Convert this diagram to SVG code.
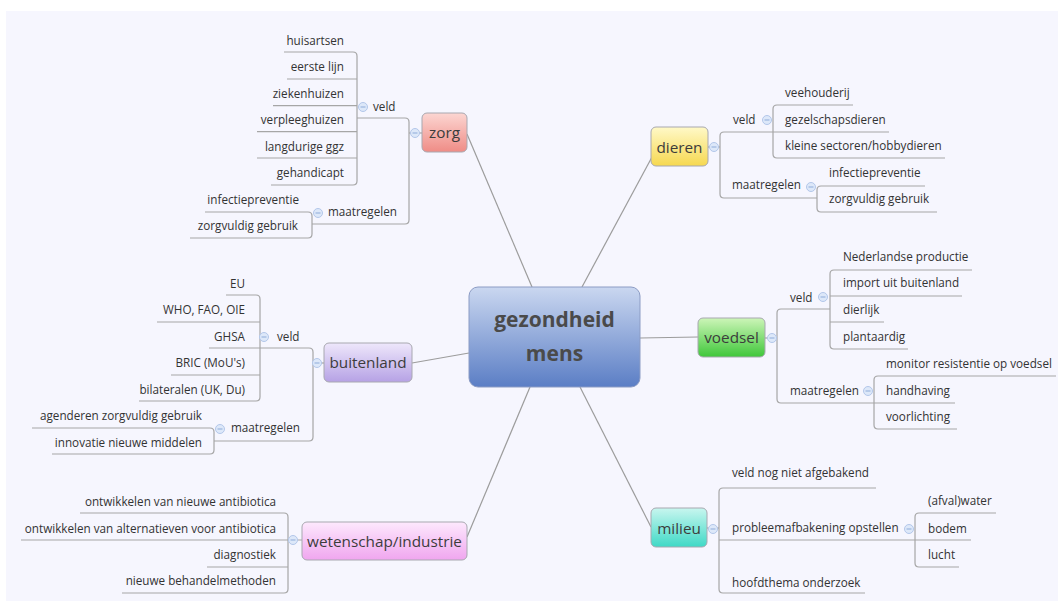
<svg xmlns="http://www.w3.org/2000/svg" width="1058" height="601" viewBox="0 0 1058 601">
<style>
.bg{fill:#f6f6fe}
.ln{stroke:#a6a6a6;stroke-width:1.2;fill:none}
.cn{stroke:#9c9c9c;stroke-width:1.2;fill:none}
.lf{font-family:"Open Sans","Noto Sans",sans-serif;font-size:11.7px;fill:#333}
.r{text-anchor:end}
.mt{font-family:"Open Sans","Noto Sans",sans-serif;font-size:15.3px;fill:#3c3c3c;text-anchor:middle}
.ct{font-family:"Open Sans","Noto Sans",sans-serif;font-size:21px;font-weight:bold;fill:#4a4a4a;text-anchor:middle}
.box{stroke:#a8a8b0;stroke-width:1}
</style>
<defs>
<linearGradient id="gC" x1="0" y1="0" x2="0" y2="1"><stop offset="0" stop-color="#cad7f0"/><stop offset="1" stop-color="#5b7ec5"/></linearGradient>
<linearGradient id="gZ" x1="0" y1="0" x2="0" y2="1"><stop offset="0" stop-color="#fcd6d2"/><stop offset="1" stop-color="#ef8c86"/></linearGradient>
<linearGradient id="gD" x1="0" y1="0" x2="0" y2="1"><stop offset="0" stop-color="#fff9c8"/><stop offset="1" stop-color="#f6d850"/></linearGradient>
<linearGradient id="gV" x1="0" y1="0" x2="0" y2="1"><stop offset="0" stop-color="#cdf5b8"/><stop offset="1" stop-color="#3fc73a"/></linearGradient>
<linearGradient id="gM" x1="0" y1="0" x2="0" y2="1"><stop offset="0" stop-color="#c8f6ef"/><stop offset="1" stop-color="#3fd9c6"/></linearGradient>
<linearGradient id="gB" x1="0" y1="0" x2="0" y2="1"><stop offset="0" stop-color="#eee7fb"/><stop offset="1" stop-color="#b6a2e5"/></linearGradient>
<linearGradient id="gW" x1="0" y1="0" x2="0" y2="1"><stop offset="0" stop-color="#fde9fd"/><stop offset="1" stop-color="#f0a6ef"/></linearGradient>
<g id="cc"><circle r="4.5" fill="#dde8f9" stroke="#b3c7ea" stroke-width="1"/><line x1="-2.5" y1="0" x2="2.5" y2="0" stroke="#8eabd9" stroke-width="1"/></g>
</defs>
<rect class="bg" x="6" y="11" width="1052" height="590"/>

<g id="connectors">
<line class="cn" x1="467" y1="134" x2="532" y2="287"/>
<line class="cn" x1="652" y1="157" x2="582" y2="287"/>
<line class="cn" x1="640" y1="338" x2="698" y2="337"/>
<line class="cn" x1="580" y1="387" x2="651" y2="527"/>
<line class="cn" x1="467" y1="537" x2="530" y2="387"/>
<line class="cn" x1="412" y1="363" x2="469" y2="353"/>

<!-- zorg -->
<line class="ln" x1="409" y1="133" x2="422" y2="133"/>
<path class="ln" d="M357 118H405Q409 118 409 122V220Q409 224 405 224H312"/>
<path class="ln" d="M284 52H353Q357 52 357 56V181Q357 185 353 185H271"/>
<path class="ln" d="M287 79H357M273 105.7H357M257 131.7H357M257 158H357"/>
<path class="ln" d="M205 212H308Q312 212 312 216V234Q312 238 308 238H190"/>

<!-- dieren -->
<line class="ln" x1="708" y1="147" x2="720" y2="147"/>
<path class="ln" d="M773 132H724Q720 132 720 136V194Q720 198 724 198H817"/>
<path class="ln" d="M853 105H777Q773 105 773 109V154Q773 158 777 158H945"/>
<path class="ln" d="M773 132H889"/>
<path class="ln" d="M925 186H821Q817 186 817 190V208Q817 212 821 212H937"/>

<!-- voedsel -->
<line class="ln" x1="765" y1="338" x2="777" y2="338"/>
<path class="ln" d="M830 309H781Q777 309 777 313V399Q777 403 781 403H874"/>
<path class="ln" d="M972 270H834Q830 270 830 274V345Q830 349 834 349H908"/>
<path class="ln" d="M830 296H962M830 322H884"/>
<path class="ln" d="M1056 376H878Q874 376 874 380V425Q874 429 878 429H957"/>
<path class="ln" d="M874 403H955"/>

<!-- milieu -->
<line class="ln" x1="707" y1="528" x2="719" y2="528"/>
<path class="ln" d="M876 488H723Q719 488 719 492V589Q719 593 723 593H865"/>
<path class="ln" d="M719 540H915"/>
<path class="ln" d="M996 513H919Q915 513 915 517V563Q915 567 919 567H959"/>
<path class="ln" d="M915 540H971"/>

<!-- buitenland -->
<line class="ln" x1="313" y1="363" x2="324" y2="363"/>
<path class="ln" d="M260 348H309Q313 348 313 352V437Q313 441 309 441H214"/>
<path class="ln" d="M226 295H256Q260 295 260 299V397Q260 401 256 401H139"/>
<path class="ln" d="M157 322H260M209 348H260M171 375H260"/>
<path class="ln" d="M32 428H210Q214 428 214 432V450Q214 454 210 454H52"/>

<!-- wetenschap/industrie -->
<path class="ln" d="M80 513H284Q288 513 288 517V589Q288 593 284 593H122"/>
<path class="ln" d="M21 540H302M207 567H288"/>
</g>

<g id="central">
<rect x="469" y="287" width="171" height="100" rx="9" fill="url(#gC)" stroke="#8c9cc4" stroke-width="1"/>
<text class="ct" x="554.5" y="327">gezondheid</text>
<text class="ct" x="554.5" y="361">mens</text>
</g>

<g id="zorg">
<rect class="box" x="422" y="113" width="45" height="39" rx="5" fill="url(#gZ)"/>
<text class="mt" x="444.5" y="138">zorg</text>
<use href="#cc" x="415" y="133"/>
</g>
<g id="zorg-veld">
<text class="lf" x="373" y="111">veld</text>
<use href="#cc" x="363" y="107"/>
<text class="lf r" x="344" y="45">huisartsen</text>
<text class="lf r" x="344" y="71">eerste lijn</text>
<text class="lf r" x="344" y="97.5">ziekenhuizen</text>
<text class="lf r" x="344" y="124">verpleeghuizen</text>
<text class="lf r" x="344" y="150.5">langdurige ggz</text>
<text class="lf r" x="344" y="177">gehandicapt</text>
</g>
<g id="zorg-maatregelen">
<text class="lf" x="328" y="215.5">maatregelen</text>
<use href="#cc" x="318" y="213"/>
<text class="lf r" x="299" y="203.5">infectiepreventie</text>
<text class="lf r" x="298" y="230">zorgvuldig gebruik</text>
</g>

<g id="dieren">
<rect class="box" x="651" y="127" width="57" height="39" rx="5" fill="url(#gD)"/>
<text class="mt" x="679.5" y="152.5">dieren</text>
<use href="#cc" x="714" y="147"/>
</g>
<g id="dieren-veld">
<text class="lf" x="733" y="124">veld</text>
<use href="#cc" x="767" y="120"/>
<text class="lf" x="785" y="97">veehouderij</text>
<text class="lf" x="785" y="123.5">gezelschapsdieren</text>
<text class="lf" x="785" y="150">kleine sectoren/hobbydieren</text>
</g>
<g id="dieren-maatregelen">
<text class="lf" x="732" y="189">maatregelen</text>
<use href="#cc" x="811" y="187"/>
<text class="lf" x="829" y="176.5">infectiepreventie</text>
<text class="lf" x="829" y="202.5">zorgvuldig gebruik</text>
</g>

<g id="voedsel">
<rect class="box" x="698" y="318" width="67" height="39" rx="5" fill="url(#gV)"/>
<text class="mt" x="731.5" y="343">voedsel</text>
<use href="#cc" x="772" y="338"/>
</g>
<g id="voedsel-veld">
<text class="lf" x="790" y="302">veld</text>
<use href="#cc" x="823" y="297"/>
<text class="lf" x="843" y="260.5">Nederlandse productie</text>
<text class="lf" x="843" y="287">import uit buitenland</text>
<text class="lf" x="843" y="314">dierlijk</text>
<text class="lf" x="843" y="341">plantaardig</text>
</g>
<g id="voedsel-maatregelen">
<text class="lf" x="790" y="394.5">maatregelen</text>
<use href="#cc" x="868" y="391"/>
<text class="lf" x="886" y="367.5">monitor resistentie op voedsel</text>
<text class="lf" x="886" y="394.5">handhaving</text>
<text class="lf" x="886" y="420.5">voorlichting</text>
</g>

<g id="milieu">
<rect class="box" x="651" y="508" width="56" height="39" rx="5" fill="url(#gM)"/>
<text class="mt" x="679" y="533.5">milieu</text>
<use href="#cc" x="713" y="529"/>
</g>
<g id="milieu-children">
<text class="lf" x="732" y="477">veld nog niet afgebakend</text>
<text class="lf" x="732" y="532">probleemafbakening opstellen</text>
<use href="#cc" x="909" y="529"/>
<text class="lf" x="732" y="587">hoofdthema onderzoek</text>
<text class="lf" x="928" y="505">(afval)water</text>
<text class="lf" x="928" y="533">bodem</text>
<text class="lf" x="928" y="558.5">lucht</text>
</g>

<g id="buitenland">
<rect class="box" x="324" y="343" width="88" height="39" rx="5" fill="url(#gB)"/>
<text class="mt" x="368" y="368">buitenland</text>
<use href="#cc" x="317" y="363"/>
</g>
<g id="buitenland-veld">
<text class="lf" x="277" y="341">veld</text>
<use href="#cc" x="264" y="337"/>
<text class="lf r" x="245" y="287.5">EU</text>
<text class="lf r" x="245" y="313.5">WHO, FAO, OIE</text>
<text class="lf r" x="245" y="341">GHSA</text>
<text class="lf r" x="245" y="367">BRIC (MoU's)</text>
<text class="lf r" x="245" y="393.5">bilateralen (UK, Du)</text>
</g>
<g id="buitenland-maatregelen">
<text class="lf" x="231" y="432">maatregelen</text>
<use href="#cc" x="220" y="429"/>
<text class="lf r" x="202" y="420">agenderen zorgvuldig gebruik</text>
<text class="lf r" x="202" y="447">innovatie nieuwe middelen</text>
</g>

<g id="wetenschap">
<rect class="box" x="302" y="522" width="165" height="38" rx="5" fill="url(#gW)"/>
<text class="mt" x="384.5" y="546.5">wetenschap/industrie</text>
<use href="#cc" x="293" y="540"/>
<text class="lf r" x="276" y="506">ontwikkelen van nieuwe antibiotica</text>
<text class="lf r" x="276" y="533">ontwikkelen van alternatieven voor antibiotica</text>
<text class="lf r" x="276" y="558.5">diagnostiek</text>
<text class="lf r" x="276" y="585">nieuwe behandelmethoden</text>
</g>
</svg>
